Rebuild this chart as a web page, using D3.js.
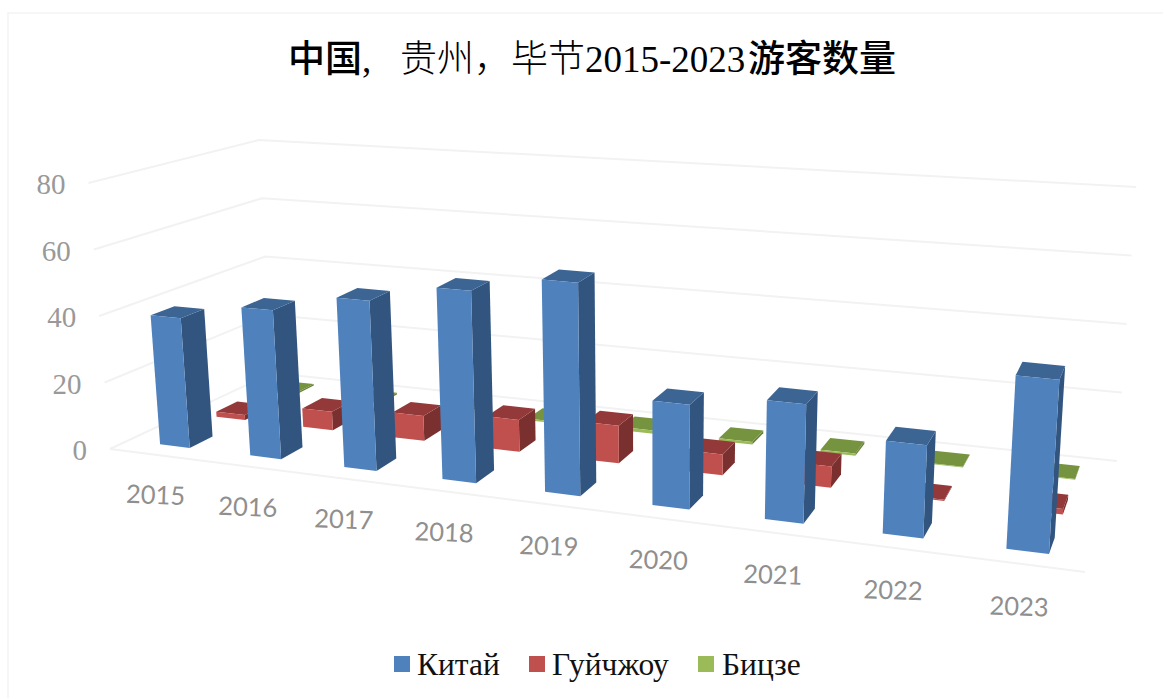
<!DOCTYPE html>
<html><head><meta charset="utf-8">
<script src="https://cdn.jsdelivr.net/npm/d3@7"></script>
<style>html,body{margin:0;padding:0;background:#fff}svg{display:block}</style>
</head><body><svg id="c" width="1163" height="698"></svg>
<script>
const categories = ["2015","2016","2017","2018","2019","2020","2021","2022","2023"];
const seriesNames = ["Китай","Гуйчжоу","Бицзе"];
const china   = [39,44,49.5,55,60,29,32.5,25,46];
const guizhou = [1.6,5.7,7.5,9.5,11,6,6,0.3,1.5];
const bijie   = [0.5,0.5,0.5,0.5,1,0.8,0.7,0.2,0.2];
const seriesValues = [china,guizhou,bijie];
const yTicks = [0,20,40,60,80];

const palette = [
 {front:"#4f81bd",top:"#3c6594",side:"#325580"},
 {front:"#c0504d",top:"#93393a",side:"#7a302f"},
 {front:"#9bbb59",top:"#76933f",side:"#67823a"}];

const serif="'Liberation Serif','Times New Roman',serif", cjk="'Noto Sans CJK SC',sans-serif";
const svg=d3.select("#c");

function homography(p0,p1,p2,p3){
  const dx1=p1[0]-p2[0],dx2=p3[0]-p2[0],sx=p0[0]-p1[0]+p2[0]-p3[0];
  const dy1=p1[1]-p2[1],dy2=p3[1]-p2[1],sy=p0[1]-p1[1]+p2[1]-p3[1];
  const det=dx1*dy2-dx2*dy1;
  const g=(sx*dy2-dx2*sy)/det,h=(dx1*sy-sx*dy1)/det;
  const a=p1[0]-p0[0]+g*p1[0],b=p3[0]-p0[0]+h*p3[0],c=p0[0];
  const d=p1[1]-p0[1]+g*p1[1],e=p3[1]-p0[1]+h*p3[1],f=p0[1];
  return (u,v)=>{const w=g*u+h*v+1;return [(a*u+b*v+c)/w,(d*u+e*v+f)/w];};
}
const floor=homography([110,449],[1085,572],[1117,461],[272,373]);
const hFL=266,hFR=308,hBR=274,hBL=233;
const leanCx=650,leanK=0.00015;

const xBand=d3.scaleBand().domain(categories).range([0.003,1.003]).paddingInner(2/3).paddingOuter(1/3);
const zBand=d3.scaleBand().domain(seriesNames).range([0,1]).paddingInner(0.6).paddingOuter(0.3);
const yScale=d3.scaleLinear().domain([0,80]).range([0,1]);
function P(u,v,val){
  const a=floor(u,v);
  const H=(hFL*(1-u)+hFR*u)*(1-v)+(hBL*(1-u)+hBR*u)*v;
  const h=yScale(val)*H;
  return [a[0]+(a[0]-leanCx)*leanK*h,a[1]-h];
}
const poly=d3.line();

svg.append("rect").attr("x",8).attr("y",13).attr("width",1170).attr("height",700)
  .attr("fill","none").attr("stroke","#f3f3f3").attr("stroke-width",1.5);

const grid=svg.append("g").attr("fill","none").attr("stroke","#f2f2f2").attr("stroke-width",2);
yTicks.forEach(t=>grid.append("path").attr("d",poly([P(0,0,t),P(0,1,t),P(1,1,t)])));
grid.append("path").attr("d",poly([P(0,0,0),P(1,0,0)]));

const bars=svg.append("g");
seriesNames.map((n,i)=>i).reverse().forEach(s=>{
  categories.forEach((cat,i)=>{
    const u0=xBand(cat),u1=u0+xBand.bandwidth();
    const v0=zBand(seriesNames[s]),v1=v0+zBand.bandwidth();
    const val=seriesValues[s][i],c=palette[s];
    const g=bars.append("g");
    g.append("path").attr("fill",c.side).attr("d",poly([P(u1,v0,0),P(u1,v1,0),P(u1,v1,val),P(u1,v0,val)])+"Z");
    g.append("path").attr("fill",c.top).attr("d",poly([P(u0,v0,val),P(u1,v0,val),P(u1,v1,val),P(u0,v1,val)])+"Z");
    g.append("path").attr("fill",c.front).attr("d",poly([P(u0,v0,0),P(u1,v0,0),P(u1,v0,val),P(u0,v0,val)])+"Z");
  });
});

yTicks.forEach(t=>{const p=P(0,0,t);
  svg.append("text").attr("x",p[0]-23).attr("y",p[1]+11).attr("text-anchor","end")
   .attr("font-family",serif).attr("font-size",29).attr("fill","#999").text(t);});

categories.forEach(cat=>{const u=xBand(cat)+xBand.bandwidth()/2,p=P(u,zBand(seriesNames[0]),0);
  svg.append("text").attr("transform",`translate(${p[0]-20+12*u},${p[1]+51+7*u}) rotate(2)`).attr("text-anchor","middle")
   .attr("dominant-baseline","middle").attr("font-family","Lato,Carlito,sans-serif").attr("font-size",25.5).attr("fill","#8f8f8f").text(cat);});

const titleParts=[["中国",288,cjk,500],[",",362,serif,400],["贵州，毕节",400,cjk,300],["2015-2023",585,serif,400],["游客数量",748,cjk,500]];
const title=svg.append("text").attr("y",72).attr("font-size",37).attr("fill","#000");
titleParts.forEach(d=>title.append("tspan").attr("x",d[1]).attr("font-family",d[2]).attr("font-weight",d[3]).text(d[0]));

const legendX=[[394,417],[529,552],[698,722]];
seriesNames.forEach((n,i)=>{
  svg.append("rect").attr("x",legendX[i][0]).attr("y",656).attr("width",16).attr("height",16).attr("fill",palette[i].front);
  svg.append("text").attr("x",legendX[i][1]).attr("y",675).attr("font-family",serif).attr("font-size",31.5).attr("fill","#111").text(n);
});
</script></body></html>
